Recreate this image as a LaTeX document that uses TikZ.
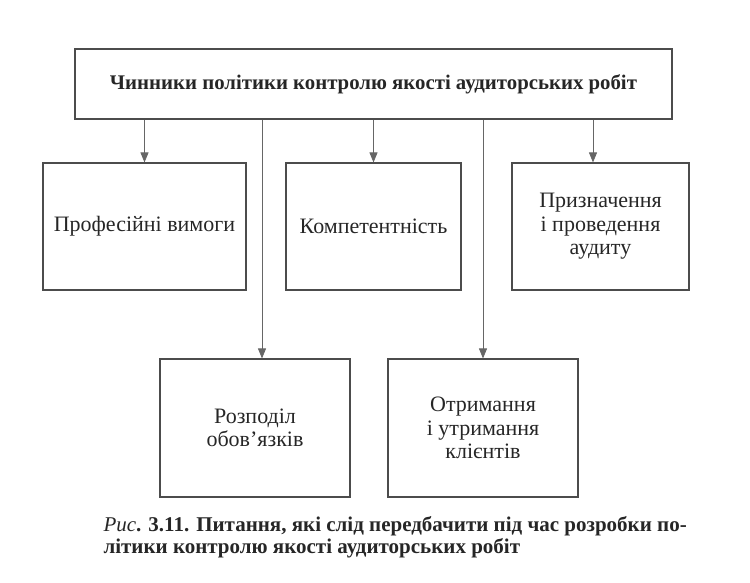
\documentclass[tikz,border=0pt]{standalone}
\usepackage{fontspec}
\setmainfont{Liberation Serif}
\usetikzlibrary{arrows.meta}

\begin{document}
\begin{tikzpicture}[x=1pt, y=-1pt,
  box/.style={draw=black!70, line width=1.1pt, minimum height=127pt, align=center,
              inner sep=2pt, text=black!85, font=\fontsize{22}{23.5}\selectfont},
  arrow/.style={-{Triangle[length=10pt,width=8pt]}, draw=black!60, line width=0.8pt}
]
\useasboundingbox (0,0) rectangle (750,583);

\node[box, minimum width=597pt, minimum height=70pt, font=\bfseries\fontsize{20.8}{22}\selectfont] (factors) at (373.5,84) {Чинники політики контролю якості аудиторських робіт};
\node[box, minimum width=203pt] (profreq) at (144.5,226.5) {Професійні вимоги};
\node[box, minimum width=175pt] (compet) at (373.5,226.5) {Компетентність};
\node[box, minimum width=177pt] (appoint) at (600.5,226.5) {Призначення\\ і проведення\\ аудиту};
\node[box, minimum width=190pt, minimum height=138pt] (duties) at (255,428) {Розподіл\\ обов’язків};
\node[box, minimum width=190pt, minimum height=138pt] (clients) at (483,428) {Отримання\\ і утримання\\ клієнтів};

\draw[arrow] (factors.south -| profreq.north) -- (profreq.north);
\draw[arrow] (factors.south -| compet.north) -- (compet.north);
\draw[arrow] (factors.south -| 593,0) -- (appoint.north -| 593,0);
\draw[arrow] (factors.south -| 262,0) -- (duties.north -| 262,0);
\draw[arrow] (factors.south -| clients.north) -- (clients.north);

\node[anchor=west, align=left, text=black!85, font=\bfseries\fontsize{21}{22}\selectfont] (caption) at (100,537)
  {\textit{\mdseries Рис}. 3.11. Питання, які слід передбачити під час розробки по-\\літики контролю якості аудиторських робіт};
\end{tikzpicture}
\end{document}
